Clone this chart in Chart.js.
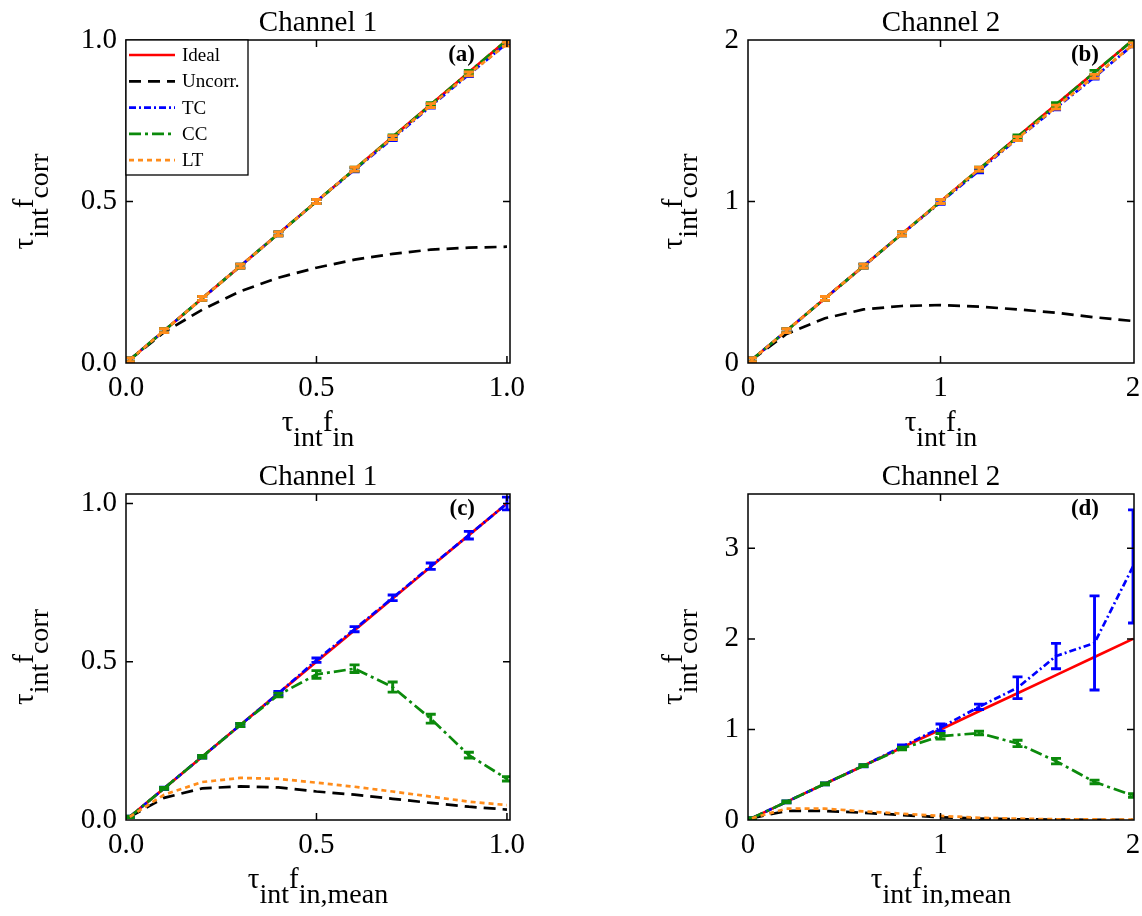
<!DOCTYPE html>
<html>
<head>
<meta charset="utf-8">
<script src="https://cdn.jsdelivr.net/npm/chart.js@4.4.0/dist/chart.umd.min.js"></script>
<style>
html,body{margin:0;padding:0;background:#fff;overflow:hidden;}
#wrap{position:relative;width:1142px;height:916px;overflow:hidden;background:#fff;}
#wrap canvas{position:absolute;}
</style>
</head>
<body>
<div id="wrap">
  <canvas id="panelA" width="571" height="458" style="left:0px;top:0px;width:571px;height:458px"></canvas>
  <canvas id="panelB" width="600" height="458" style="left:571px;top:0px;width:600px;height:458px"></canvas>
  <canvas id="panelC" width="571" height="458" style="left:0px;top:458px;width:571px;height:458px"></canvas>
  <canvas id="panelD" width="600" height="458" style="left:571px;top:458px;width:600px;height:458px"></canvas>
</div>
<script>
// ---------------- data ----------------
const SERIES_NAMES = ['Ideal', 'Uncorr.', 'TC', 'CC', 'LT'];

const X_CH1 = [0.01, 0.1, 0.2, 0.3, 0.4, 0.5, 0.6, 0.7, 0.8, 0.9, 1.0];
const X_CH2 = [0.02, 0.2, 0.4, 0.6, 0.8, 1.0, 1.2, 1.4, 1.6, 1.8, 2.0];

// panel (a): Channel 1 vs tau_int f_in
const A_IDEAL  = [0.01, 0.1, 0.2, 0.3, 0.4, 0.5, 0.6, 0.7, 0.8, 0.9, 1.0];
const A_UNCORR = [0.01, 0.095, 0.165, 0.222, 0.264, 0.295, 0.32, 0.338, 0.351, 0.357, 0.36];
const A_TC     = [0.01, 0.1, 0.2, 0.3, 0.4, 0.5, 0.598, 0.695, 0.795, 0.893, 0.99];
const A_CC     = [0.01, 0.1, 0.2, 0.3, 0.4, 0.5, 0.6, 0.7, 0.8, 0.9, 1.0];
const A_LT     = [0.01, 0.1, 0.2, 0.3, 0.4, 0.5, 0.6, 0.698, 0.797, 0.895, 0.987];
const A_ERR    = [0.006, 0.006, 0.006, 0.006, 0.006, 0.006, 0.006, 0.006, 0.006, 0.006, 0.006];

// panel (b): Channel 2 vs tau_int f_in
const B_IDEAL  = [0.02, 0.2, 0.4, 0.6, 0.8, 1.0, 1.2, 1.4, 1.6, 1.8, 2.0];
const B_UNCORR = [0.02, 0.18, 0.277, 0.332, 0.353, 0.359, 0.349, 0.332, 0.311, 0.283, 0.26];
const B_TC     = [0.02, 0.2, 0.4, 0.6, 0.8, 0.995, 1.19, 1.39, 1.58, 1.77, 1.97];
const B_CC     = [0.02, 0.2, 0.4, 0.6, 0.8, 1.0, 1.2, 1.4, 1.6, 1.8, 2.0];
const B_LT     = [0.02, 0.2, 0.4, 0.6, 0.8, 1.0, 1.2, 1.39, 1.585, 1.775, 1.97];
const B_ERR    = [0.012, 0.012, 0.012, 0.012, 0.012, 0.012, 0.012, 0.012, 0.012, 0.012, 0.012];

// panel (c): Channel 1 vs tau_int f_in,mean
const C_IDEAL  = [0.01, 0.1, 0.2, 0.3, 0.4, 0.5, 0.6, 0.7, 0.8, 0.9, 1.0];
const C_UNCORR = [0.01, 0.07, 0.1, 0.106, 0.103, 0.09, 0.08, 0.067, 0.054, 0.042, 0.033];
const C_TC     = [0.01, 0.1, 0.2, 0.3, 0.4, 0.505, 0.603, 0.702, 0.802, 0.9, 1.0];
const C_TC_ERR = [0.002, 0.004, 0.004, 0.005, 0.006, 0.007, 0.008, 0.009, 0.01, 0.012, 0.02];
const C_CC     = [0.01, 0.1, 0.2, 0.3, 0.395, 0.46, 0.478, 0.42, 0.32, 0.205, 0.13];
const C_CC_ERR = [0.002, 0.003, 0.004, 0.005, 0.006, 0.012, 0.012, 0.016, 0.014, 0.009, 0.007];
const C_LT     = [0.01, 0.08, 0.12, 0.133, 0.13, 0.118, 0.105, 0.09, 0.074, 0.058, 0.047];

// panel (d): Channel 2 vs tau_int f_in,mean
const D_IDEAL  = [0.02, 0.2, 0.4, 0.6, 0.8, 1.0, 1.2, 1.4, 1.6, 1.8, 2.0];
const D_UNCORR = [0.02, 0.1, 0.1, 0.08, 0.055, 0.03, 0.015, 0.008, 0.004, 0.002, 0.001];
const D_TC     = [0.02, 0.2, 0.4, 0.6, 0.81, 1.02, 1.25, 1.46, 1.81, 1.955, 2.8];
const D_TC_ERR = [0.005, 0.01, 0.01, 0.012, 0.02, 0.04, 0.03, 0.12, 0.14, 0.52, 0.625];
const D_CC     = [0.02, 0.2, 0.4, 0.6, 0.79, 0.925, 0.96, 0.845, 0.65, 0.42, 0.27];
const D_CC_ERR = [0.005, 0.01, 0.01, 0.01, 0.015, 0.03, 0.02, 0.035, 0.03, 0.02, 0.02];
const D_LT     = [0.02, 0.125, 0.125, 0.095, 0.07, 0.045, 0.025, 0.015, 0.008, 0.006, 0.005];

// ticks
const TICKS_CH1 = [0, 0.5, 1.0];
const TICK_LABELS_CH1 = ['0.0', '0.5', '1.0'];
const TICKS_CH2 = [0, 1, 2];
const TICK_LABELS_CH2 = ['0', '1', '2'];
const TICKS_D_Y = [0, 1, 2, 3];
const TICK_LABELS_D_Y = ['0', '1', '2', '3'];

const TITLES = ['Channel 1', 'Channel 2', 'Channel 1', 'Channel 2'];
const PANEL_LETTERS = ['(a)', '(b)', '(c)', '(d)'];

// ---------------- style ----------------
const FONT = "'Liberation Serif','Times New Roman',Times,serif";
Chart.defaults.font.family = FONT;
Chart.defaults.color = '#000';
const COLORS = ['#ff0000', '#000000', '#0000ff', '#0b8a0b', '#ff8c1a'];
const DASHES = [[], [12, 7], [7, 3, 2, 3], [12, 4, 3, 4], [5, 4]];
const LINE_W = 2.7;

function series(idx, xs, ys, errs) {
  return {
    label: SERIES_NAMES[idx],
    data: xs.map((x, i) => ({ x: x, y: ys[i] })),
    borderColor: COLORS[idx],
    backgroundColor: COLORS[idx],
    borderDash: DASHES[idx],
    borderWidth: LINE_W,
    pointRadius: 0,
    pointHoverRadius: 0,
    tension: 0,
    fill: false,
    order: 5 - idx,
    errs: errs || null
  };
}

function drawSubLabel(ctx, parts, cx, cy, rotate) {
  const mainFont = '29px ' + FONT;
  const subFont = '28px ' + FONT;
  const SUB_DY = 15;
  let total = 0;
  const widths = parts.map(p => {
    ctx.font = p.sub ? subFont : mainFont;
    const w = ctx.measureText(p.t).width;
    total += w;
    return w;
  });
  ctx.save();
  ctx.translate(cx, cy);
  if (rotate) ctx.rotate(-Math.PI / 2);
  ctx.fillStyle = '#000';
  ctx.textAlign = 'left';
  ctx.textBaseline = 'alphabetic';
  let x = -total / 2;
  parts.forEach((p, i) => {
    ctx.font = p.sub ? subFont : mainFont;
    ctx.fillText(p.t, x, p.sub ? SUB_DY : 0);
    x += widths[i];
  });
  ctx.restore();
}

function decorPlugin(cfg) {
  return {
    id: 'decor_' + cfg.key,
    afterDatasetDraw(chart, args) {
      const ds = chart.data.datasets[args.index];
      if (!ds.errs) return;
      const ctx = chart.ctx;
      const ca = chart.chartArea;
      const ys = chart.scales.y;
      ctx.save();
      ctx.beginPath();
      ctx.rect(ca.left, ca.top, ca.right - ca.left, ca.bottom - ca.top);
      ctx.clip();
      ctx.strokeStyle = ds.borderColor;
      ctx.lineWidth = 2.9;
      ctx.setLineDash([]);
      const half = 5;
      args.meta.data.forEach((pt, i) => {
        const e = ds.errs[i];
        if (!e) return;
        const v = ds.data[i].y;
        const y1 = ys.getPixelForValue(v - e);
        const y2 = ys.getPixelForValue(v + e);
        ctx.beginPath();
        ctx.moveTo(pt.x, y1); ctx.lineTo(pt.x, y2);
        ctx.moveTo(pt.x - half, y1); ctx.lineTo(pt.x + half, y1);
        ctx.moveTo(pt.x - half, y2); ctx.lineTo(pt.x + half, y2);
        ctx.stroke();
      });
      ctx.restore();
    },
    afterDatasetsDraw(chart) {
      const ctx = chart.ctx;
      const ca = chart.chartArea;
      const xs = chart.scales.x, ys = chart.scales.y;
      ctx.save();
      ctx.setLineDash([]);
      ctx.strokeStyle = '#000';
      ctx.lineWidth = 1.5;
      ctx.strokeRect(ca.left, ca.top, ca.right - ca.left, ca.bottom - ca.top);
      const TL = 7;
      ctx.beginPath();
      cfg.xTicks.forEach(v => {
        const px = xs.getPixelForValue(v);
        if (px - ca.left < 1.5 || ca.right - px < 1.5) return;
        ctx.moveTo(px, ca.bottom); ctx.lineTo(px, ca.bottom - TL);
        ctx.moveTo(px, ca.top); ctx.lineTo(px, ca.top + TL);
      });
      cfg.yTicks.forEach(v => {
        const py = ys.getPixelForValue(v);
        if (py - ca.top < 1.5 || ca.bottom - py < 1.5) return;
        ctx.moveTo(ca.left, py); ctx.lineTo(ca.left + TL, py);
        ctx.moveTo(ca.right, py); ctx.lineTo(ca.right - TL, py);
      });
      ctx.stroke();

      // panel letter
      ctx.fillStyle = '#000';
      ctx.font = 'bold 23px ' + FONT;
      ctx.textAlign = 'right';
      ctx.textBaseline = 'alphabetic';
      ctx.fillText(cfg.letter, ca.right - 35, ca.top + 21);

      // legend
      if (cfg.legend) {
        const lx = ca.left, ly = ca.top, lw = 122, lh = 135;
        ctx.fillStyle = '#fff';
        ctx.fillRect(lx, ly, lw, lh);
        ctx.strokeStyle = '#000';
        ctx.lineWidth = 1.3;
        ctx.strokeRect(lx, ly, lw, lh);
        ctx.font = '19px ' + FONT;
        ctx.textAlign = 'left';
        ctx.textBaseline = 'middle';
        SERIES_NAMES.forEach((name, i) => {
          const y = ly + 15 + i * 26.3;
          ctx.beginPath();
          ctx.strokeStyle = COLORS[i];
          ctx.lineWidth = LINE_W;
          ctx.setLineDash(DASHES[i]);
          ctx.moveTo(lx + 3, y); ctx.lineTo(lx + 49, y);
          ctx.stroke();
          ctx.setLineDash([]);
          ctx.fillStyle = '#000';
          ctx.fillText(name, lx + 56, y + 1);
        });
      }
      ctx.restore();
    },
    afterDraw(chart) {
      const ctx = chart.ctx;
      const ca = chart.chartArea;
      const cx = (ca.left + ca.right) / 2;
      const cy = (ca.top + ca.bottom) / 2;
      ctx.save();
      ctx.fillStyle = '#000';
      ctx.font = '29px ' + FONT;
      ctx.textAlign = 'center';
      ctx.textBaseline = 'alphabetic';
      ctx.fillText(cfg.title, cx, ca.top - 9);
      ctx.restore();
      drawSubLabel(ctx, cfg.xLabel, cx, ca.bottom + 68, false);
      drawSubLabel(ctx, cfg.yLabel, ca.left - cfg.yLabOff, cy, true);
    }
  };
}

function makePanel(cfg) {
  const canvas = document.getElementById(cfg.id);
  const padL = cfg.area.l - cfg.origin.x;
  const padT = cfg.area.t - cfg.origin.y;
  const padR = canvas.width - (cfg.area.r - cfg.origin.x);
  const padB = canvas.height - (cfg.area.b - cfg.origin.y);
  return new Chart(canvas, {
    type: 'line',
    data: { datasets: cfg.datasets },
    options: {
      responsive: false,
      animation: false,
      devicePixelRatio: 1,
      events: [],
      layout: { padding: { left: 0, top: padT, right: padR, bottom: 0 } },
      plugins: { legend: { display: false }, tooltip: { enabled: false }, title: { display: false } },
      scales: {
        x: {
          type: 'linear', min: cfg.xMin, max: cfg.xMax,
          afterBuildTicks: s => { s.ticks = cfg.xTicks.map(v => ({ value: v })); },
          afterFit: s => { s.height = padB; },
          ticks: { callback: (v, i) => cfg.xTickLabels[i], font: { size: 29 }, padding: 8, maxRotation: 0, autoSkip: false, color: '#000' },
          grid: { display: true, drawOnChartArea: false, drawTicks: false },
          border: { display: false }
        },
        y: {
          type: 'linear', min: cfg.yMin, max: cfg.yMax,
          afterBuildTicks: s => { s.ticks = cfg.yTicks.map(v => ({ value: v })); },
          afterFit: s => { s.width = padL; },
          ticks: { callback: (v, i) => cfg.yTickLabels[i], font: { size: 29 }, padding: 9, autoSkip: false, color: '#000' },
          grid: { display: true, drawOnChartArea: false, drawTicks: false },
          border: { display: false }
        }
      }
    },
    plugins: [decorPlugin(cfg)]
  });
}

const Y_LABEL = [{ t: 'τ' }, { t: 'int', sub: true }, { t: 'f' }, { t: 'corr', sub: true }];
const X_LABEL_IN = [{ t: 'τ' }, { t: 'int', sub: true }, { t: 'f' }, { t: 'in', sub: true }];
const X_LABEL_MEAN = [{ t: 'τ' }, { t: 'int', sub: true }, { t: 'f' }, { t: 'in,mean', sub: true }];

makePanel({
  key: 'a', id: 'panelA', origin: { x: 0, y: 0 }, area: { l: 126, t: 40, r: 510, b: 363 },
  xMin: 0, xMax: 1.008, yMin: 0, yMax: 1.0,
  xTicks: TICKS_CH1, xTickLabels: TICK_LABELS_CH1, yTicks: TICKS_CH1, yTickLabels: TICK_LABELS_CH1,
  title: TITLES[0], letter: PANEL_LETTERS[0], legend: true,
  xLabel: X_LABEL_IN, yLabel: Y_LABEL, yLabOff: 93,
  datasets: [
    series(0, X_CH1, A_IDEAL), series(1, X_CH1, A_UNCORR),
    series(2, X_CH1, A_TC, A_ERR), series(3, X_CH1, A_CC, A_ERR), series(4, X_CH1, A_LT, A_ERR)
  ]
});

makePanel({
  key: 'b', id: 'panelB', origin: { x: 571, y: 0 }, area: { l: 748, t: 40, r: 1134, b: 363 },
  xMin: 0, xMax: 2.005, yMin: 0, yMax: 2.0,
  xTicks: TICKS_CH2, xTickLabels: TICK_LABELS_CH2, yTicks: TICKS_CH2, yTickLabels: TICK_LABELS_CH2,
  title: TITLES[1], letter: PANEL_LETTERS[1], legend: false,
  xLabel: X_LABEL_IN, yLabel: Y_LABEL, yLabOff: 66,
  datasets: [
    series(0, X_CH2, B_IDEAL), series(1, X_CH2, B_UNCORR),
    series(2, X_CH2, B_TC, B_ERR), series(3, X_CH2, B_CC, B_ERR), series(4, X_CH2, B_LT, B_ERR)
  ]
});

makePanel({
  key: 'c', id: 'panelC', origin: { x: 0, y: 458 }, area: { l: 126, t: 494, r: 510, b: 820 },
  xMin: 0, xMax: 1.008, yMin: 0, yMax: 1.03,
  xTicks: TICKS_CH1, xTickLabels: TICK_LABELS_CH1, yTicks: TICKS_CH1, yTickLabels: TICK_LABELS_CH1,
  title: TITLES[2], letter: PANEL_LETTERS[2], legend: false,
  xLabel: X_LABEL_MEAN, yLabel: Y_LABEL, yLabOff: 93,
  datasets: [
    series(0, X_CH1, C_IDEAL), series(1, X_CH1, C_UNCORR),
    series(2, X_CH1, C_TC, C_TC_ERR), series(3, X_CH1, C_CC, C_CC_ERR), series(4, X_CH1, C_LT)
  ]
});

makePanel({
  key: 'd', id: 'panelD', origin: { x: 571, y: 458 }, area: { l: 748, t: 494, r: 1134, b: 820 },
  xMin: 0, xMax: 2.005, yMin: 0, yMax: 3.6,
  xTicks: TICKS_CH2, xTickLabels: TICK_LABELS_CH2, yTicks: TICKS_D_Y, yTickLabels: TICK_LABELS_D_Y,
  title: TITLES[3], letter: PANEL_LETTERS[3], legend: false,
  xLabel: X_LABEL_MEAN, yLabel: Y_LABEL, yLabOff: 66,
  datasets: [
    series(0, X_CH2, D_IDEAL), series(1, X_CH2, D_UNCORR),
    series(2, X_CH2, D_TC, D_TC_ERR), series(3, X_CH2, D_CC, D_CC_ERR), series(4, X_CH2, D_LT)
  ]
});
</script>
</body>
</html>
